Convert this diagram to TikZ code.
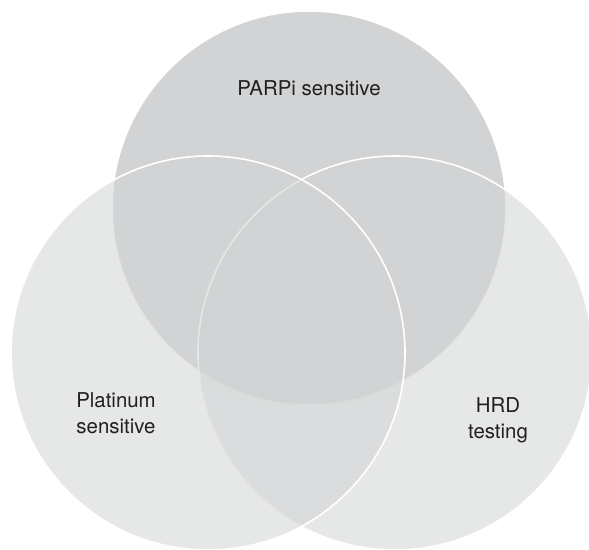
\documentclass[tikz,border=0pt]{standalone}
\usepackage{fontspec}
\setmainfont{TeX Gyre Heros}
\usepackage{xcolor}
\usetikzlibrary{positioning}
\definecolor{venngray}{HTML}{D1D3D4}
\definecolor{labeltext}{HTML}{231F20}
\tikzset{
  vennset/.style={circle,draw=white,fill=venngray,line width=1.6bp,minimum size=394bp,inner sep=0pt,outer sep=0pt},
  softset/.style={vennset,fill opacity=0.55},
  setlabel/.style={align=center,text=labeltext,inner sep=0pt,font=\fontsize{20.5}{26}\selectfont}
}

\begin{document}
\begin{tikzpicture}[x=1bp,y=-1bp]
    \useasboundingbox (0,0) rectangle (589,550);

    % Sets (top one first, the two lower ones over it)
    \node[vennset] (parpi) at (309,208) {};
    \node[softset] (hrd) at (395,353) {};
    \node[softset] (platinum) at (208,353) {};

    % Labels
    \node[setlabel,anchor=base] (lparpi) at (309,96) {PARPi sensitive};
    \node[setlabel] (lplatinum) at (116,413) {Platinum\\sensitive};
    \node[setlabel] (lhrd) at (498,420) {HRD\\testing};
\end{tikzpicture}
\end{document}
